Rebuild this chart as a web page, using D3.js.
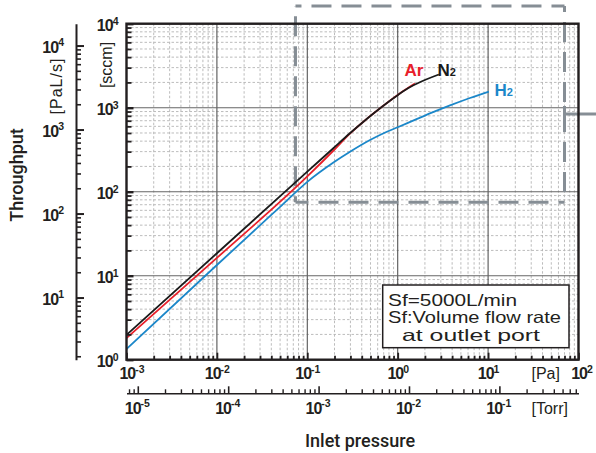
<!DOCTYPE html>
<html><head><meta charset="utf-8">
<script src="https://cdn.jsdelivr.net/npm/d3@7/dist/d3.min.js"></script>
<style>
html,body{margin:0;padding:0;background:#fff;}
svg{display:block;font-family:"Liberation Sans",Arial,sans-serif;}
</style></head>
<body>
<svg id="chart" width="596" height="453"></svg>
<script>
// ---------- data ----------
const pressureN2 = [0.001, 0.01, 0.1, 0.194, 0.296, 0.454, 0.665, 1.016, 1.25, 1.62, 2.85];
const flowN2     = [1.97, 18.5, 173, 329, 496, 735, 1021, 1429, 1660, 1928, 2483];
const pressureAr = [0.001, 0.01, 0.1, 0.2, 0.3, 0.454, 0.665, 1.0, 1.55];
const flowAr     = [1.81, 16.3, 152, 318, 498, 735, 1021, 1420, 1940];
const pressureH2 = [0.001, 0.01, 0.05, 0.1, 0.2, 0.3, 0.5, 0.708, 1.0, 1.64, 2.5, 3.79, 6.3, 10.2];
const flowH2     = [1.34, 13.4, 66, 131, 227, 301, 415, 500, 585, 735, 890, 1065, 1305, 1555];
const seriesNames = ["H\u2082", "Ar", "N\u2082"];

// axis tick labels (base 10 with exponent)
const paExponents   = ["-3", "-2", "-1", "0", "1", "2"];
const torrExponents = ["-5", "-4", "-3", "-2", "-1"];
const sccmExponents = ["0", "1", "2", "3", "4"];
const palsExponents = ["1", "2", "3", "4"];
const legendLines = ["Sf=5000L/min", "Sf:Volume flow rate", "at outlet port"];

const PA_PER_TORR = 133.322;
const PALS_PER_SCCM = 1.82;

// ---------- scales ----------
const svg = d3.select("#chart");
const L = 126.5, R = 578.5, T = 23.7, B = 359.7;
const x = d3.scaleLog().domain([1e-3, 1e2]).range([L, R]);
const xTorr = d3.scaleLog().domain([1e-3 / PA_PER_TORR, 1e2 / PA_PER_TORR]).range([L, R]);
const y = d3.scaleLog().domain([1, 1e4]).range([B, T]);
const yPaLs = d3.scaleLog().domain([1 * PALS_PER_SCCM, 1e4 * PALS_PER_SCCM]).range([B, T]);

function logTicks(dom, minor) {
  const out = [];
  const lo = Math.floor(Math.log10(dom[0])) , hi = Math.ceil(Math.log10(dom[1]));
  for (let k = lo; k <= hi; k++) {
    for (let m = 1; m <= 9; m++) {
      const v = m * Math.pow(10, k);
      if (v < dom[0] * 0.9999 || v > dom[1] * 1.0001) continue;
      if (minor ? m !== 1 : m === 1) out.push(v);
    }
  }
  return out;
}

const ink = "#231f20";
const tickFont = "'Liberation Sans', Arial, sans-serif";

// ---------- grid ----------
const grid = svg.append("g");
grid.selectAll(".vmin").data(logTicks(x.domain(), true)).join("line")
  .attr("x1", d => x(d)).attr("x2", d => x(d)).attr("y1", T).attr("y2", B)
  .attr("stroke", "#b4b4b4").attr("stroke-width", 0.9).attr("stroke-dasharray", "2.5,2");
grid.selectAll(".hmin").data(logTicks(y.domain(), true)).join("line")
  .attr("x1", L).attr("x2", R).attr("y1", d => y(d)).attr("y2", d => y(d))
  .attr("stroke", "#b4b4b4").attr("stroke-width", 0.9).attr("stroke-dasharray", "2.5,2");
grid.selectAll(".vmaj").data(logTicks(x.domain(), false)).join("line")
  .attr("x1", d => x(d)).attr("x2", d => x(d)).attr("y1", T).attr("y2", B)
  .attr("stroke", "#555").attr("stroke-width", 1.1);
grid.selectAll(".hmaj").data(logTicks(y.domain(), false)).join("line")
  .attr("x1", L).attr("x2", R).attr("y1", d => y(d)).attr("y2", d => y(d))
  .attr("stroke", "#666").attr("stroke-width", 1.1);

// ---------- highlight dashed rectangle ----------
const hl = svg.append("g").attr("stroke", "#868e95").attr("stroke-width", 3).attr("fill", "none");
const hx0 = x(0.074), hx1 = x(70), hy0 = 6, hy1 = y(75);
[[hx0, hy0, hx1, hy0], [hx1, hy0, hx1, hy1], [hx1, hy1, hx0, hy1], [hx0, hy1, hx0, hy0]].forEach(s => {
  hl.append("line").attr("x1", s[0]).attr("y1", s[1]).attr("x2", s[2]).attr("y2", s[3])
    .attr("stroke-dasharray", "20,10").attr("stroke-dashoffset", 14);
});
hl.append("line").attr("x1", hx1).attr("x2", 596).attr("y1", 114).attr("y2", 114);
hl.append("line").attr("x1", hx1).attr("x2", hx1).attr("y1", 106).attr("y2", 120);

// ---------- curves ----------
const line = d3.line().x(d => x(d[0])).y(d => y(d[1])).curve(d3.curveMonotoneX);
const series = [
  {p: pressureH2, q: flowH2, color: "#1b87c9"},
  {p: pressureAr, q: flowAr, color: "#e8202a"},
  {p: pressureN2, q: flowN2, color: "#1a1a1a"}
];
svg.append("g").selectAll("path").data(series).join("path")
  .attr("d", s => line(s.p.map((v, i) => [v, s.q[i]])))
  .attr("fill", "none").attr("stroke", s => s.color).attr("stroke-width", 1.8);

// ---------- frame ----------
svg.append("rect").attr("x", L).attr("y", T).attr("width", R - L).attr("height", B - T)
  .attr("fill", "none").attr("stroke", ink).attr("stroke-width", 2.4);

function supText(sel, exp, supSize) {
  sel.text(null);
  sel.append("tspan").attr("letter-spacing", "-1px").text("10");
  sel.append("tspan").attr("dy", -6.5).attr("font-size", supSize).text(exp);
}
function styleAxis(g, w) {
  g.select(".domain").remove();
  g.selectAll(".tick line").attr("stroke", ink).attr("stroke-width", w);
}

// bottom Pa axis (ticks inward)
const gxMin = svg.append("g").attr("transform", `translate(0,${B})`)
  .call(d3.axisBottom(x).tickValues(logTicks(x.domain(), true)).tickSize(-4).tickFormat(""));
styleAxis(gxMin, 1.8);
const gx = svg.append("g").attr("transform", `translate(0,${B})`)
  .call(d3.axisBottom(x).tickValues(logTicks(x.domain(), false)).tickSize(-7).tickFormat(""));
styleAxis(gx, 1.8);
gx.selectAll(".tick text").data(paExponents).join("text")
  .attr("font-family", tickFont).attr("font-weight", "bold").attr("font-size", 16).attr("fill", ink)
  .attr("text-anchor", "middle").attr("x", (d, i) => i === 0 ? 5 : (i === paExponents.length - 1 ? 3 : 0))
  .attr("y", 19.5).attr("dy", 0)
  .each(function(d) { supText(d3.select(this), d, 10.5); });

// Torr axis
const TY = 393.3;
const gtMin = svg.append("g").attr("transform", `translate(0,${TY})`)
  .call(d3.axisBottom(xTorr).tickValues(logTicks(xTorr.domain(), true)).tickSize(-4).tickSizeOuter(0).tickFormat(""));
gtMin.select(".domain").attr("stroke", ink).attr("stroke-width", 1.6);
gtMin.selectAll(".tick line").attr("stroke", ink).attr("stroke-width", 1.4);
const gt = svg.append("g").attr("transform", `translate(0,${TY})`)
  .call(d3.axisBottom(xTorr).tickValues(logTicks(xTorr.domain(), false)).tickSize(-7).tickFormat(""));
styleAxis(gt, 1.6);
gt.selectAll(".tick text").data(torrExponents).join("text")
  .attr("font-family", tickFont).attr("font-weight", "bold").attr("font-size", 16).attr("fill", ink)
  .attr("text-anchor", "middle").attr("x", -1).attr("y", 20.7).attr("dy", 0)
  .each(function(d) { supText(d3.select(this), d, 10.5); });

// left sccm axis (ticks inward)
const gyMin = svg.append("g").attr("transform", `translate(${L},0)`)
  .call(d3.axisLeft(y).tickValues(logTicks(y.domain(), true)).tickSize(-5).tickFormat(""));
styleAxis(gyMin, 1.8);
const gy = svg.append("g").attr("transform", `translate(${L},0)`)
  .call(d3.axisLeft(y).tickValues(logTicks(y.domain(), false)).tickSize(-7).tickFormat(""));
styleAxis(gy, 2.4);
gy.selectAll(".tick text").data(sccmExponents).join("text")
  .attr("font-family", tickFont).attr("font-weight", "bold").attr("font-size", 16).attr("fill", ink)
  .attr("text-anchor", "end").attr("x", -8).attr("y", 7).attr("dy", 0)
  .each(function(d) { supText(d3.select(this), d, 10.5); });

// outer PaL/s axis
const OX = 76;
const goMin = svg.append("g").attr("transform", `translate(${OX},0)`)
  .call(d3.axisRight(yPaLs).tickValues(logTicks(yPaLs.domain(), true)).tickSize(5).tickSizeOuter(0).tickFormat(""));
goMin.select(".domain").attr("stroke", ink).attr("stroke-width", 2);
goMin.selectAll(".tick line").attr("stroke", ink).attr("stroke-width", 1.6);
const go = svg.append("g").attr("transform", `translate(${OX},0)`)
  .call(d3.axisRight(yPaLs).tickValues(logTicks(yPaLs.domain(), false)).tickSize(8).tickFormat(""));
styleAxis(go, 2);
go.selectAll(".tick text").data(palsExponents).join("text")
  .attr("font-family", tickFont).attr("font-weight", "bold").attr("font-size", 16).attr("fill", ink)
  .attr("text-anchor", "end").attr("x", -12).attr("y", 6.5).attr("dy", 0)
  .each(function(d) { supText(d3.select(this), d, 10.5); });

// ---------- unit / axis titles ----------
svg.append("text").attr("x", 531.5).attr("y", 379.3).attr("font-size", 16).attr("fill", ink).text("[Pa]");
svg.append("text").attr("x", 531.5).attr("y", 413.5).attr("font-size", 16).attr("fill", ink).text("[Torr]");
svg.append("text").attr("transform", "translate(112,65) rotate(-90)").attr("text-anchor", "middle")
  .attr("font-size", 16).attr("fill", ink).text("[sccm]");
svg.append("text").attr("transform", "translate(62,86) rotate(-90)").attr("text-anchor", "middle")
  .attr("font-size", 16).attr("letter-spacing", "1px").attr("fill", ink).text("[PaL/s]");
svg.append("text").attr("transform", "translate(23,175) rotate(-90)").attr("text-anchor", "middle")
  .attr("font-family", "Roboto, 'Liberation Sans', Arial, sans-serif").attr("font-weight", 500)
  .attr("font-size", 18).attr("fill", ink).text("Throughput");
svg.append("text").attr("x", 360).attr("y", 447).attr("text-anchor", "middle")
  .attr("font-family", "Roboto, 'Liberation Sans', Arial, sans-serif").attr("font-weight", 500)
  .attr("font-size", 18).attr("fill", ink).text("Inlet pressure");

// ---------- series labels ----------
function seriesLabel(name, px, py, color) {
  const t = svg.append("text").attr("x", px).attr("y", py).attr("fill", color)
    .attr("font-weight", "bold").attr("font-size", 17);
  t.append("tspan").text(name[0]);
  if (name[1] === "\u2082") t.append("tspan").attr("font-size", 11).text("2");
  else t.append("tspan").text(name.slice(1));
}
seriesLabel(seriesNames[1], 404.5, 75.5, "#e8202a");
seriesLabel(seriesNames[2], 437.5, 75.5, "#1a1a1a");
seriesLabel(seriesNames[0], 494.5, 96, "#1b87c9");

// ---------- legend box ----------
svg.append("rect").attr("x", 382.7).attr("y", 285).attr("width", 186.3).attr("height", 62.7)
  .attr("fill", "#fff").attr("stroke", ink).attr("stroke-width", 1.5);
const lx = [388, 388, 402], ly = [305.5, 323, 340.5], lw = [129, 173, 138];
svg.append("g").selectAll("text").data(legendLines).join("text")
  .attr("x", (d, i) => lx[i]).attr("y", (d, i) => ly[i])
  .attr("textLength", (d, i) => lw[i]).attr("lengthAdjust", "spacingAndGlyphs")
  .attr("font-size", 16.5).attr("fill", ink).text(d => d);
</script>
</body></html>
